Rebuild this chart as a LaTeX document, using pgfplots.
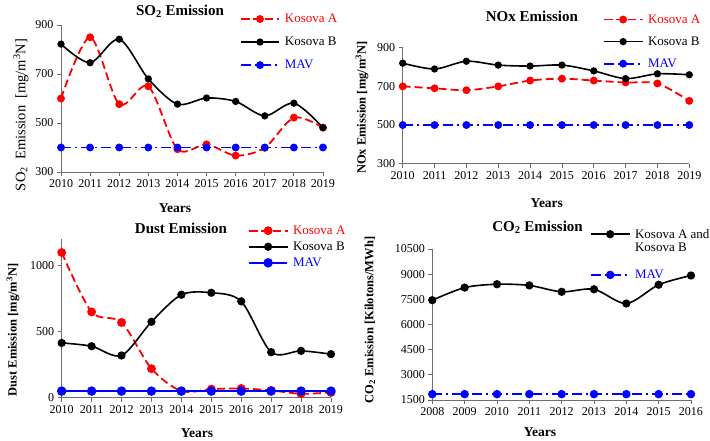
\documentclass[border=0pt]{standalone}
\usepackage{fontspec}
\setmainfont{Liberation Serif}
\usepackage{pgfplots}
\pgfplotsset{compat=1.18}
\definecolor{axgray}{RGB}{110,110,110}
\pgfplotsset{
  base/.style={
    scale only axis,
    axis lines=left,
    axis line style={-, draw=axgray, line width=1pt},
    tick style={draw=axgray, line width=0.8pt},
    tick align=outside,
    major tick length=4pt,
    scaled ticks=false,
    /pgf/number format/assume math mode=true,
    /pgf/number format/1000 sep={},
    ticklabel style={font=\fontsize{12}{13}\selectfont},
    clip=false,
    legend style={draw=none, fill=none, anchor=north west, inner sep=0pt,
      font=\fontsize{13}{14}\selectfont, row sep=8pt,
      /tikz/every odd column/.append style={column sep=3pt}},
    legend cell align=left,
    legend image code/.code={\draw[mark repeat=2,mark phase=2,#1] plot coordinates {(0pt,0pt) (19pt,0pt) (38pt,0pt)};},
    title style={font=\fontsize{15}{17}\selectfont\bfseries, anchor=center},
    xlabel style={font=\fontsize{13.5}{14}\selectfont\bfseries, anchor=center},
    ylabel style={font=\fontsize{12.5}{13}\selectfont\bfseries, anchor=center},
  },
  kA/.style={red, line width=1.8pt, dash pattern=on 8pt off 4pt, mark=*, mark size=3pt, mark options={solid, fill=red}, smooth},
  kB/.style={black, line width=1.6pt, mark=*, mark size=2.8pt, mark options={solid, fill=black}, smooth},
  mav/.style={blue, line width=1.8pt, dash pattern=on 10pt off 4pt on 2pt off 4pt, mark=*, mark size=3pt, mark options={solid, fill=blue}},
}
\begin{document}
\begin{tikzpicture}
\path[use as bounding box] (0,0) rectangle (710pt,440pt);

% ---------- SO2 ----------
\begin{axis}[base,
  at={(61pt,268pt)}, anchor=south west, width=262pt, height=147pt,
  xmin=2010, xmax=2019, ymin=300, ymax=900,
  xtick={2010,...,2019}, ytick={300,500,700,900},
  title={SO\textsubscript{2} Emission},
  title style={at={(axis description cs:0.454,1.054)}},
  xlabel={Years},
  xlabel style={at={(axis description cs:0.435,-0.245)}},
  ylabel={SO\textsubscript{2}\ \ Emission\ \ [mg/m\textsuperscript{3}N]},
  ylabel style={at={(axis description cs:-0.153,0.388)}, font=\fontsize{14.5}{15}\selectfont},
  legend style={at={(axis description cs:0.683,1.09)}, row sep=9pt},
]
\addplot[kA] coordinates {(2010,600) (2011,850) (2012,577) (2013,650) (2014,393) (2015,413) (2016,367) (2017,399) (2018,522) (2019,481)};
\addlegendentry{\textcolor{red}{Kosova A}}
\addplot[kB] coordinates {(2010,822) (2011,746) (2012,842) (2013,680) (2014,577) (2015,602) (2016,588) (2017,529) (2018,581) (2019,481)};
\addlegendentry{Kosova B}
\addplot[mav] coordinates {(2010,400) (2011,400) (2012,400) (2013,400) (2014,400) (2015,400) (2016,400) (2017,400) (2018,400) (2019,400)};
\addlegendentry{\textcolor{blue}{MAV}}
\end{axis}

% ---------- NOx ----------
\begin{axis}[base,
  at={(402.7pt,276.3pt)}, anchor=south west, width=286.6pt, height=116pt,
  xmin=2010, xmax=2019, ymin=300, ymax=900,
  xtick={2010,...,2019}, ytick={300,500,700,900},
  title={NOx Emission},
  title style={at={(axis description cs:0.451,1.222)}},
  xlabel={Years},
  xlabel style={at={(axis description cs:0.503,-0.339)}},
  ylabel={NOx Emission [mg/m\textsuperscript{3}N]},
  ylabel style={at={(axis description cs:-0.142,0.484)}},
  legend style={at={(axis description cs:0.699,1.305)}},
]
\addplot[kA] coordinates {(2010,700) (2011,690) (2012,680) (2013,700) (2014,730) (2015,740) (2016,730) (2017,720) (2018,715) (2019,625)};
\addlegendentry{\textcolor{red}{Kosova A}}
\addplot[kB] coordinates {(2010,820) (2011,790) (2012,830) (2013,810) (2014,805) (2015,810) (2016,780) (2017,740) (2018,765) (2019,760)};
\addlegendentry{Kosova B}
\addplot[mav] coordinates {(2010,500) (2011,500) (2012,500) (2013,500) (2014,500) (2015,500) (2016,500) (2017,500) (2018,500) (2019,500)};
\addlegendentry{\textcolor{blue}{MAV}}
\end{axis}

% ---------- Dust ----------
\begin{axis}[base,
  at={(61.7pt,42.3pt)}, anchor=south west, width=269.3pt, height=158.4pt,
  xmin=2010, xmax=2019, ymin=0, ymax=1200,
  xtick={2010,...,2019}, ytick={0,500,1000},
  title={Dust Emission},
  title style={at={(axis description cs:0.443,1.033)}},
  xlabel={Years},
  xlabel style={at={(axis description cs:0.502,-0.223)}},
  ylabel={Dust Emission [mg/m\textsuperscript{3}N]},
  ylabel style={at={(axis description cs:-0.181,0.427)}},
  legend style={at={(axis description cs:0.692,1.10)}, row sep=2pt},
]
\addplot[kA, mark size=3.5pt] coordinates {(2010,1100) (2011,650) (2012,570) (2013,220) (2014,50) (2015,65) (2016,70) (2017,55) (2018,30) (2019,40)};
\addlegendentry{\textcolor{red}{Kosova A}}
\addplot[kB, mark size=3.3pt] coordinates {(2010,415) (2011,390) (2012,320) (2013,575) (2014,780) (2015,795) (2016,730) (2017,345) (2018,355) (2019,330)};
\addlegendentry{Kosova B}
\addplot[mav, solid, mark size=3.8pt] coordinates {(2010,50) (2011,50) (2012,50) (2013,50) (2014,50) (2015,50) (2016,50) (2017,50) (2018,50) (2019,50)};
\addlegendentry{\textcolor{blue}{MAV}}
\end{axis}

% ---------- CO2 ----------
\begin{axis}[base,
  at={(432.3pt,40pt)}, anchor=south west, width=258.7pt, height=151pt,
  xmin=2008, xmax=2016, ymin=1500, ymax=10500,
  xtick={2008,...,2016}, ytick={1500,3000,...,10500},
  title={CO\textsubscript{2} Emission},
  title style={at={(axis description cs:0.407,1.106)}},
  xlabel={Years},
  xlabel style={at={(axis description cs:0.416,-0.212)}},
  ylabel={CO\textsubscript{2} Emission [Kilotons/MWh]},
  ylabel style={at={(axis description cs:-0.241,0.530)}},
  legend style={at={(axis description cs:0.61,1.15)}, row sep=26pt},
]
\addplot[kB, mark size=3.3pt] coordinates {(2008,7450) (2009,8200) (2010,8400) (2011,8330) (2012,7950) (2013,8100) (2014,7250) (2015,8370) (2016,8920)};
\addlegendentry{\begin{tabular}[t]{@{}l@{}}Kosova A and\\[-1pt]Kosova B\end{tabular}}
\addplot[mav, mark size=3.3pt] coordinates {(2008,1850) (2009,1850) (2010,1850) (2011,1850) (2012,1850) (2013,1850) (2014,1850) (2015,1850) (2016,1850)};
\addlegendentry{\textcolor{blue}{MAV}}
\end{axis}
\end{tikzpicture}
\end{document}
